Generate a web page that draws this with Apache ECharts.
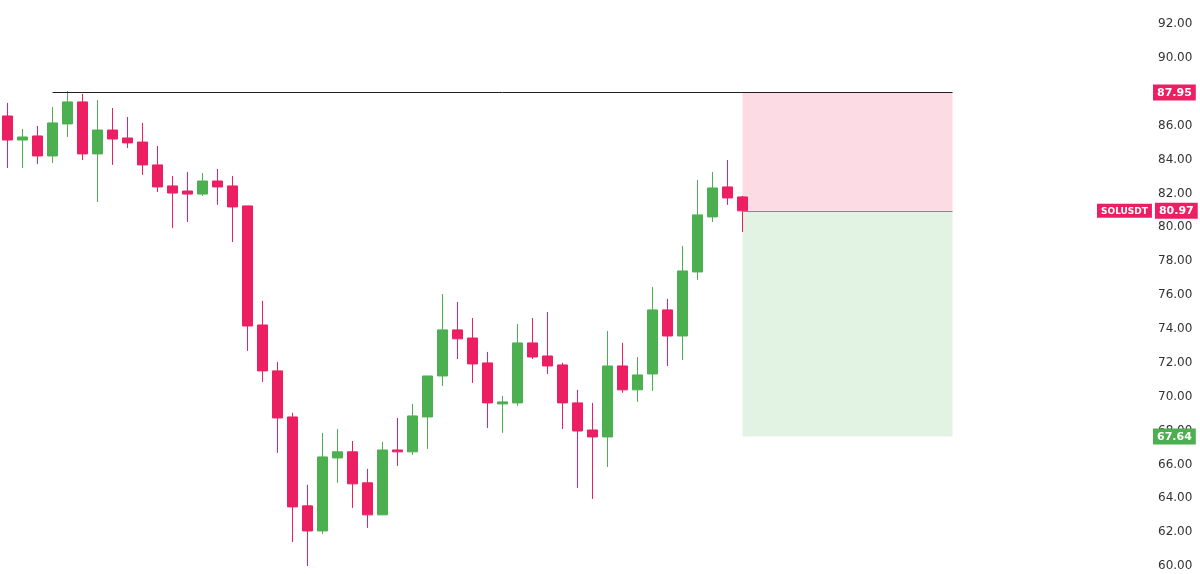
<!DOCTYPE html>
<html>
<head>
<meta charset="utf-8">
<script src="https://cdn.jsdelivr.net/npm/echarts@6/dist/echarts.min.js"></script>
<style>html,body{margin:0;padding:0;background:#fff}#chart{width:1200px;height:574px}</style>
</head>
<body>
<div id="chart"></div>
<script>
// candles: [open, close, low, high]
const candles = [
  [86.57, 85.15, 83.50, 87.34], [85.15, 85.33, 83.50, 85.80], [85.39, 84.21, 83.74, 85.98],
  [84.21, 86.16, 83.79, 87.10], [86.10, 87.40, 85.33, 88.04], [87.40, 84.33, 83.97, 87.87],
  [84.33, 85.74, 81.49, 87.51], [85.74, 85.21, 83.68, 87.04], [85.27, 84.98, 84.68, 86.51],
  [85.03, 83.68, 83.09, 86.16], [83.68, 82.38, 82.08, 84.80], [82.44, 82.02, 79.96, 83.03],
  [82.14, 81.96, 80.31, 83.26], [81.96, 82.73, 81.85, 83.20], [82.73, 82.38, 81.32, 83.44],
  [82.44, 81.20, 79.13, 83.03], [81.26, 74.17, 72.70, 81.26], [74.23, 71.52, 70.87, 75.65],
  [71.52, 68.74, 66.68, 72.05], [68.80, 63.49, 61.42, 69.04], [63.55, 62.07, 60.00, 64.79],
  [62.07, 66.44, 61.89, 67.86], [66.38, 66.74, 64.91, 68.09], [66.74, 64.85, 63.43, 67.38],
  [64.91, 63.02, 62.25, 65.73], [63.02, 66.85, 63.02, 67.33], [66.85, 66.74, 65.91, 68.74],
  [66.74, 68.86, 66.56, 69.57], [68.80, 71.22, 66.91, 71.22], [71.22, 73.94, 70.63, 76.06],
  [73.94, 73.41, 72.22, 75.59], [73.46, 71.93, 70.81, 74.64], [71.99, 69.63, 68.15, 72.64],
  [69.57, 69.69, 67.86, 70.04], [69.63, 73.17, 69.45, 74.29], [73.17, 72.34, 72.22, 74.64],
  [72.40, 71.81, 71.34, 75.00], [71.87, 69.63, 68.09, 72.00], [69.63, 67.97, 64.61, 70.40],
  [68.03, 67.62, 63.96, 69.63], [67.62, 71.81, 65.85, 73.88], [71.81, 70.40, 70.22, 73.17],
  [70.40, 71.28, 69.69, 72.34], [71.34, 75.12, 70.34, 76.48], [75.12, 73.58, 71.81, 75.77],
  [73.58, 77.42, 72.17, 78.90], [77.36, 80.73, 76.89, 82.79], [80.61, 82.32, 80.31, 83.26],
  [82.38, 81.73, 81.32, 83.97], [81.79, 80.97, 79.72, 81.85]
];
const totalSlots = 75;
const categories = Array.from({ length: totalSlots }, (_, i) => String(i + 1));
const resistance = 87.95;
const entry = 80.97;
const stop = 67.64;
const ticker = 'SOLUSDT';
const lineFrom = 3, boxFrom = 49, boxTo = 63;

const myChart = echarts.init(document.getElementById('chart'));
const up = '#4caf50', down = '#ec1f63';

const box = (bg, size) => ({ backgroundColor: bg, color: '#fff', padding: [3, 4, 2, 4], fontSize: size, fontWeight: 'bold', fontFamily: 'DejaVu Sans', lineHeight: 13 });

// price tags sit just outside the grid, on the price axis
const tag = (v, bg, extra) => ({
  yAxis: v,
  lineStyle: { color: 'transparent', width: 0 },
  label: {
    show: true, position: 'end', distance: extra ? -28 : 28,
    formatter: extra ? '{t|' + extra + '}{s|}{v|' + v.toFixed(2) + '}' : '{v|' + v.toFixed(2) + '}',
    rich: { t: box(bg, 9), s: { width: 3 }, v: box(bg, 11) }
  }
});

myChart.setOption({
  animation: false,
  grid: { left: 0, right: 75, top: 24, bottom: 8 },
  xAxis: {
    type: 'category', data: categories, boundaryGap: true,
    axisLine: { show: false }, axisTick: { show: false }, axisLabel: { show: false }, splitLine: { show: false }
  },
  yAxis: {
    type: 'value', position: 'right', min: 60, max: 92, interval: 2,
    axisLine: { show: false }, axisTick: { show: false }, splitLine: { show: false },
    axisLabel: { margin: 33, color: '#333', fontSize: 12, fontFamily: 'DejaVu Sans', formatter: v => v.toFixed(2) }
  },
  series: [{
    type: 'candlestick',
    data: candles,
    barWidth: 10,
    itemStyle: { color: up, color0: down, borderColor: up, borderColor0: down, borderWidth: 1 },
    markArea: {
      silent: true,
      data: [
        [{ xAxis: boxFrom, yAxis: resistance, itemStyle: { color: 'rgba(242,54,110,0.18)' } }, { xAxis: boxTo, yAxis: entry }],
        [{ xAxis: boxFrom, yAxis: entry, itemStyle: { color: 'rgba(76,175,80,0.16)' } }, { xAxis: boxTo, yAxis: stop }]
      ]
    },
    markLine: {
      silent: true, symbol: 'none',
      label: { show: false },
      data: [
        [{ coord: [lineFrom, resistance], lineStyle: { color: '#222', width: 1, type: 'solid' } }, { coord: [boxTo, resistance] }],
        [{ coord: [boxFrom, entry], lineStyle: { color: '#888', width: 1, type: 'solid' } }, { coord: [boxTo, entry] }]
      ]
    }
  }, {
    type: 'line',
    data: [],
    markLine: {
      silent: true, symbol: 'none',
      data: [tag(resistance, '#ec1f63'), tag(entry, '#ec1f63', ticker), tag(stop, '#4caf50')]
    }
  }]
});
</script>
</body>
</html>
